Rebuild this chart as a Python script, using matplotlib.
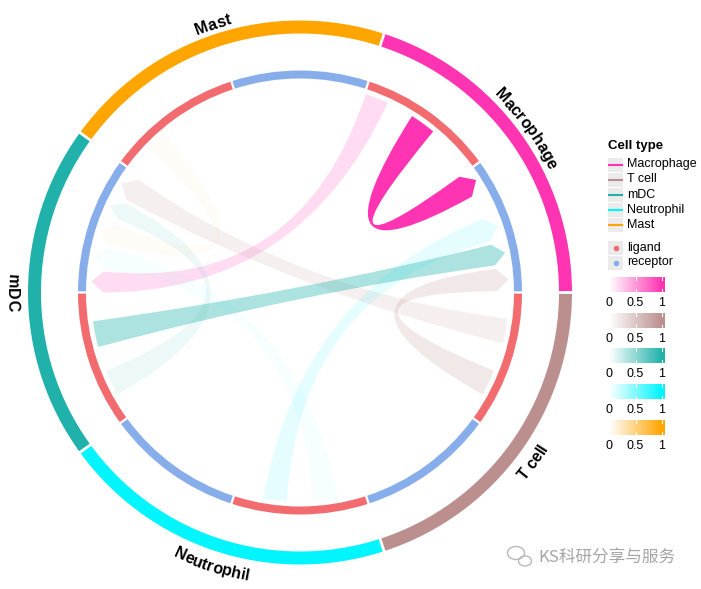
import numpy as np
import matplotlib
matplotlib.use("Agg")
import matplotlib.pyplot as plt
from matplotlib.path import Path
from matplotlib.patches import PathPatch, Wedge, Rectangle, Ellipse
from matplotlib.colors import LinearSegmentedColormap
from matplotlib.textpath import TextToPath
from matplotlib.font_manager import FontProperties

# cell types (legend order) and their colours
cell_types = ["Macrophage", "T cell", "mDC", "Neutrophil", "Mast"]
cell_colors = ["#FF34B3", "#BC8F8F", "#20B2AA", "#00F5FF", "#FFA500"]
# sectors clockwise from 3 o'clock
sector_order = ["T cell", "Neutrophil", "mDC", "Mast", "Macrophage"]

roles = ["ligand", "receptor"]
role_colors = ["#F26B6F", "#87AEEA"]

# links: sender ligand slot (0..1) -> receiver receptor slot (1..2), strength 0..1
link_from = ["Macrophage", "Macrophage", "T cell", "T cell", "mDC",
             "mDC", "Neutrophil", "Neutrophil", "Mast"]
link_to = ["mDC", "Macrophage", "mDC", "Macrophage", "Macrophage",
           "mDC", "Macrophage", "mDC", "mDC"]
link_from_pos = [(0.01, 0.19), (0.40, 0.60), (0.20, 0.39), (0.61, 0.81), (0.58, 0.78),
                 (0.19, 0.39), (0.60, 0.78), (0.21, 0.40), (0.21, 0.37)]
link_to_pos = [(1.00, 1.17), (1.00, 1.19), (1.78, 1.97), (1.81, 1.99), (1.61, 1.78),
               (1.61, 1.75), (1.39, 1.58), (1.19, 1.36), (1.39, 1.56)]
link_strength = [0.17, 1.0, 0.14, 0.2, 0.37, 0.08, 0.1, 0.03, 0.03]

cbar_ticks = [0, 0.5, 1]

W, H = 701, 589
cx, cy = 300, H - 292.5
R_OUT, W_OUT = 272, 13
R_IN, W_IN = 222, 8
R_END, R_ARR = 209, 197
R_TXT_UP, R_TXT_DN = 277, 293


def sector_angle(name, x):
    i = sector_order.index(name)
    return -72 * i - 36 * x


def polar(theta, r):
    t = np.radians(theta)
    return cx + r * np.cos(t), cy + r * np.sin(t)


def link_patch(a0, a1, b0, b1, color, alpha):
    verts, codes = [], []
    for k, t in enumerate(np.linspace(a0, a1, 20)):
        verts.append(polar(t, R_END))
        codes.append(Path.MOVETO if k == 0 else Path.LINETO)
    verts += [(cx, cy), polar(b0, R_ARR)]
    codes += [Path.CURVE3, Path.CURVE3]
    verts.append(polar((b0 + b1) / 2, R_END))
    codes.append(Path.LINETO)
    verts.append(polar(b1, R_ARR))
    codes.append(Path.LINETO)
    verts += [(cx, cy), polar(a0, R_END)]
    codes += [Path.CURVE3, Path.CURVE3]
    verts.append(polar(a0, R_END))
    codes.append(Path.CLOSEPOLY)
    return PathPatch(Path(verts, codes), facecolor=color, alpha=alpha, lw=0)


fig = plt.figure(figsize=(W / 100, H / 100), dpi=100)
ax = fig.add_axes([0, 0, 1, 1])
ax.set_xlim(0, W)
ax.set_ylim(0, H)
ax.axis("off")

# outer ring (cell types) and inner ring (ligand / receptor)
for name in sector_order:
    col = cell_colors[cell_types.index(name)]
    t_start = sector_angle(name, 0)
    ax.add_patch(Wedge((cx, cy), R_OUT, t_start - 71.7, t_start - 0.3,
                       width=W_OUT, facecolor=col, lw=0))
    for j, rc in enumerate(role_colors):
        ax.add_patch(Wedge((cx, cy), R_IN, sector_angle(name, j + 1) + 0.3,
                           sector_angle(name, j) - 0.3,
                           width=W_IN, facecolor=rc, lw=0))

# links
for s, r, fp_, tp_, a in zip(link_from, link_to, link_from_pos, link_to_pos, link_strength):
    col = cell_colors[cell_types.index(s)]
    a0, a1 = sector_angle(s, fp_[1]), sector_angle(s, fp_[0])
    b0, b1 = sector_angle(r, tp_[1]), sector_angle(r, tp_[0])
    ax.add_patch(link_patch(a0, a1, b0, b1, col, a))

# sector labels bent along the ring
ttp = TextToPath()
lab_fp = FontProperties(family="Liberation Sans", weight="bold", size=11.5)


def adv(s):
    if not s:
        return 0.0
    return ttp.get_text_width_height_descent(s, lab_fp, ismath=False)[0] * 100 / 72


for name in sector_order:
    tc = (sector_angle(name, 1) + 180) % 360 - 180
    upper = 0 < tc < 180
    total = adv(name)
    rr = R_TXT_UP if upper else R_TXT_DN
    for k, ch in enumerate(name):
        if ch == " ":
            continue
        off = (adv(name[:k + 1]) + adv(name[:k])) / 2 - total / 2
        dth = np.degrees(off / rr)
        th = tc - dth if upper else tc + dth
        rot = th - 90 if upper else th + 90
        x, y = polar(th, rr)
        ax.text(x, y, ch, fontproperties=lab_fp, rotation=rot,
                rotation_mode="anchor", ha="center", va="baseline")

# legend
leg_font = "Liberation Sans"
ax.text(608, H - 146, "Cell type", fontsize=9.5, fontweight="bold",
        family=leg_font, va="center", ha="left")
for k, (name, col) in enumerate(zip(cell_types, cell_colors)):
    yc = H - (164.5 + 15 * k)
    ax.add_patch(Rectangle((608, yc - 7), 15, 14, facecolor="#EBEBEB", lw=0))
    ax.plot([608, 623], [yc, yc], color=col, lw=1.5, solid_capstyle="butt")
    ax.text(627, yc, name, fontsize=9, family=leg_font, va="center", ha="left")
for k, (name, col) in enumerate(zip(roles, role_colors)):
    yc = H - (247.5 + 15 * k)
    ax.add_patch(Rectangle((608, yc - 7), 15, 14, facecolor="#EBEBEB", lw=0))
    ax.plot([615.5], [yc], marker="o", ms=4, color=col, mec="none")
    ax.text(627, yc, name, fontsize=9, family=leg_font, va="center", ha="left")

# colour bars for link strength
xs = np.linspace(609, 665, 120)
grad = np.clip((xs - 609) / 53, 0, 1)[None, :]
for k, col in enumerate(cell_colors):
    top = 277 + 35.7 * k
    cmap = LinearSegmentedColormap.from_list("c%d" % k, ["white", col])
    ax.imshow(grad, extent=(609, 665, H - top - 15, H - top), cmap=cmap,
              vmin=0, vmax=1, aspect="auto", interpolation="bilinear")
    for t in cbar_ticks:
        xt = 609 + 53 * t
        ax.plot([xt, xt], [H - top - 15, H - top - 12], color="white", lw=0.8)
        ax.plot([xt, xt], [H - top, H - top - 3], color="white", lw=0.8)
        ax.text(xt, H - top - 26, "%g" % t, fontsize=9, family=leg_font,
                ha="center", va="center")

ax.set_xlim(0, W)
ax.set_ylim(0, H)

# watermark
ax.add_patch(Ellipse((516, H - 553), 17, 13, fill=False, ec="#B8B8B8", lw=1))
ax.add_patch(Ellipse((525, H - 561), 13, 10, fill=False, ec="#B8B8B8", lw=1))
ax.text(538, H - 557, "KS科研分享与服务", fontsize=12, color="#A5A5A5",
        family=["Noto Sans CJK SC", "DejaVu Sans"], va="center", ha="left")

fig.savefig("out.png", dpi=100)
